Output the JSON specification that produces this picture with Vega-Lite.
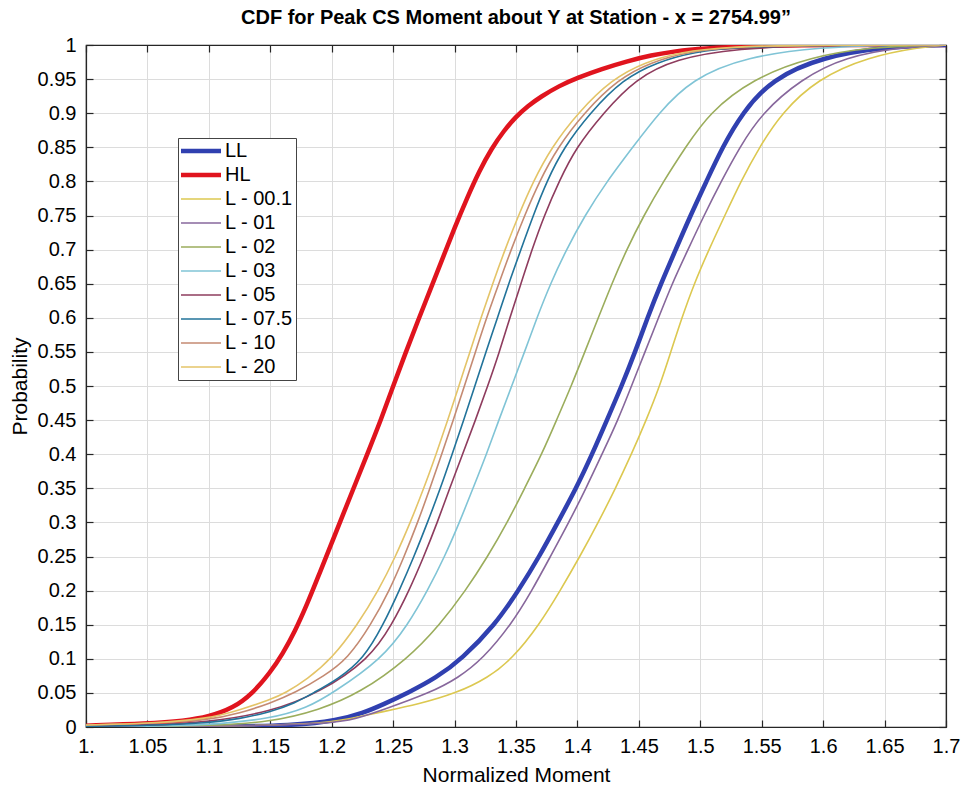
{
  "$schema": "https://vega.github.io/schema/vega-lite/v6.json",
  "width": 860,
  "height": 682,
  "autosize": {"type": "none"},
  "padding": {"left": 86, "top": 45, "right": 15, "bottom": 66},
  "background": "white",
  "title": {
    "text": "CDF for Peak CS Moment about Y at Station - x = 2754.99\u201d",
    "font": "Liberation Sans",
    "fontSize": 20,
    "fontWeight": "bold",
    "color": "#000000",
    "anchor": "middle",
    "offset": 7
  },
  "datasets": {
    "cdf": [
      {"s":"HL","x":1.00,"p":0.002},{"s":"HL","x":1.05,"p":0.005},{"s":"HL","x":1.08,"p":0.009},{"s":"HL","x":1.10,"p":0.015},{"s":"HL","x":1.12,"p":0.028},{"s":"HL","x":1.135,"p":0.048},{"s":"HL","x":1.15,"p":0.08},{"s":"HL","x":1.16,"p":0.107},{"s":"HL","x":1.17,"p":0.14},{"s":"HL","x":1.18,"p":0.18},{"s":"HL","x":1.19,"p":0.225},{"s":"HL","x":1.20,"p":0.27},{"s":"HL","x":1.21,"p":0.315},{"s":"HL","x":1.22,"p":0.36},{"s":"HL","x":1.23,"p":0.405},{"s":"HL","x":1.24,"p":0.45},{"s":"HL","x":1.25,"p":0.5},{"s":"HL","x":1.26,"p":0.548},{"s":"HL","x":1.27,"p":0.595},{"s":"HL","x":1.28,"p":0.64},{"s":"HL","x":1.29,"p":0.686},{"s":"HL","x":1.30,"p":0.732},{"s":"HL","x":1.31,"p":0.775},{"s":"HL","x":1.32,"p":0.815},{"s":"HL","x":1.33,"p":0.848},{"s":"HL","x":1.34,"p":0.874},{"s":"HL","x":1.35,"p":0.895},{"s":"HL","x":1.36,"p":0.911},{"s":"HL","x":1.37,"p":0.924},{"s":"HL","x":1.385,"p":0.94},{"s":"HL","x":1.40,"p":0.952},{"s":"HL","x":1.42,"p":0.965},{"s":"HL","x":1.44,"p":0.976},{"s":"HL","x":1.46,"p":0.985},{"s":"HL","x":1.48,"p":0.991},{"s":"HL","x":1.50,"p":0.995},{"s":"HL","x":1.55,"p":0.999},{"s":"HL","x":1.60,"p":1.0},{"s":"HL","x":1.70,"p":1.0},

      {"s":"LL","x":1.00,"p":0},{"s":"LL","x":1.10,"p":0},{"s":"LL","x":1.17,"p":0.002},{"s":"LL","x":1.205,"p":0.01},{"s":"LL","x":1.225,"p":0.02},{"s":"LL","x":1.243,"p":0.034},{"s":"LL","x":1.262,"p":0.05},{"s":"LL","x":1.285,"p":0.072},{"s":"LL","x":1.306,"p":0.1},{"s":"LL","x":1.333,"p":0.15},{"s":"LL","x":1.352,"p":0.2},{"s":"LL","x":1.369,"p":0.25},{"s":"LL","x":1.384,"p":0.3},{"s":"LL","x":1.399,"p":0.35},{"s":"LL","x":1.412,"p":0.4},{"s":"LL","x":1.424,"p":0.45},{"s":"LL","x":1.436,"p":0.5},{"s":"LL","x":1.447,"p":0.55},{"s":"LL","x":1.457,"p":0.6},{"s":"LL","x":1.468,"p":0.65},{"s":"LL","x":1.48,"p":0.7},{"s":"LL","x":1.492,"p":0.75},{"s":"LL","x":1.505,"p":0.8},{"s":"LL","x":1.518,"p":0.85},{"s":"LL","x":1.534,"p":0.9},{"s":"LL","x":1.558,"p":0.95},{"s":"LL","x":1.60,"p":0.983},{"s":"LL","x":1.65,"p":0.997},{"s":"LL","x":1.70,"p":1.0},

      {"s":"L - 00.1","x":1.00,"p":0},{"s":"L - 00.1","x":1.12,"p":0.001},{"s":"L - 00.1","x":1.19,"p":0.005},{"s":"L - 00.1","x":1.21,"p":0.01},{"s":"L - 00.1","x":1.24,"p":0.022},{"s":"L - 00.1","x":1.27,"p":0.033},{"s":"L - 00.1","x":1.302,"p":0.05},{"s":"L - 00.1","x":1.327,"p":0.072},{"s":"L - 00.1","x":1.347,"p":0.1},{"s":"L - 00.1","x":1.369,"p":0.15},{"s":"L - 00.1","x":1.386,"p":0.2},{"s":"L - 00.1","x":1.402,"p":0.25},{"s":"L - 00.1","x":1.417,"p":0.3},{"s":"L - 00.1","x":1.431,"p":0.35},{"s":"L - 00.1","x":1.444,"p":0.4},{"s":"L - 00.1","x":1.456,"p":0.45},{"s":"L - 00.1","x":1.467,"p":0.5},{"s":"L - 00.1","x":1.476,"p":0.55},{"s":"L - 00.1","x":1.485,"p":0.6},{"s":"L - 00.1","x":1.495,"p":0.65},{"s":"L - 00.1","x":1.507,"p":0.7},{"s":"L - 00.1","x":1.52,"p":0.75},{"s":"L - 00.1","x":1.533,"p":0.8},{"s":"L - 00.1","x":1.548,"p":0.85},{"s":"L - 00.1","x":1.566,"p":0.9},{"s":"L - 00.1","x":1.595,"p":0.95},{"s":"L - 00.1","x":1.637,"p":0.983},{"s":"L - 00.1","x":1.68,"p":0.997},{"s":"L - 00.1","x":1.70,"p":1.0},

      {"s":"L - 01","x":1.00,"p":0},{"s":"L - 01","x":1.12,"p":0.001},{"s":"L - 01","x":1.20,"p":0.005},{"s":"L - 01","x":1.22,"p":0.012},{"s":"L - 01","x":1.24,"p":0.024},{"s":"L - 01","x":1.28,"p":0.05},{"s":"L - 01","x":1.303,"p":0.072},{"s":"L - 01","x":1.323,"p":0.1},{"s":"L - 01","x":1.346,"p":0.15},{"s":"L - 01","x":1.363,"p":0.2},{"s":"L - 01","x":1.378,"p":0.25},{"s":"L - 01","x":1.393,"p":0.3},{"s":"L - 01","x":1.407,"p":0.35},{"s":"L - 01","x":1.42,"p":0.4},{"s":"L - 01","x":1.433,"p":0.45},{"s":"L - 01","x":1.444,"p":0.5},{"s":"L - 01","x":1.455,"p":0.55},{"s":"L - 01","x":1.466,"p":0.6},{"s":"L - 01","x":1.477,"p":0.65},{"s":"L - 01","x":1.49,"p":0.7},{"s":"L - 01","x":1.503,"p":0.75},{"s":"L - 01","x":1.517,"p":0.8},{"s":"L - 01","x":1.532,"p":0.85},{"s":"L - 01","x":1.55,"p":0.9},{"s":"L - 01","x":1.582,"p":0.95},{"s":"L - 01","x":1.618,"p":0.983},{"s":"L - 01","x":1.665,"p":0.997},{"s":"L - 01","x":1.70,"p":1.0},

      {"s":"L - 02","x":1.00,"p":0},{"s":"L - 02","x":1.05,"p":0.0005},{"s":"L - 02","x":1.10,"p":0.002},{"s":"L - 02","x":1.15,"p":0.007},{"s":"L - 02","x":1.19,"p":0.025},{"s":"L - 02","x":1.223,"p":0.05},{"s":"L - 02","x":1.262,"p":0.1},{"s":"L - 02","x":1.288,"p":0.15},{"s":"L - 02","x":1.309,"p":0.2},{"s":"L - 02","x":1.327,"p":0.25},{"s":"L - 02","x":1.343,"p":0.3},{"s":"L - 02","x":1.357,"p":0.35},{"s":"L - 02","x":1.371,"p":0.4},{"s":"L - 02","x":1.383,"p":0.45},{"s":"L - 02","x":1.395,"p":0.5},{"s":"L - 02","x":1.406,"p":0.55},{"s":"L - 02","x":1.417,"p":0.6},{"s":"L - 02","x":1.428,"p":0.65},{"s":"L - 02","x":1.44,"p":0.7},{"s":"L - 02","x":1.454,"p":0.75},{"s":"L - 02","x":1.47,"p":0.8},{"s":"L - 02","x":1.488,"p":0.85},{"s":"L - 02","x":1.507,"p":0.9},{"s":"L - 02","x":1.542,"p":0.95},{"s":"L - 02","x":1.59,"p":0.983},{"s":"L - 02","x":1.64,"p":0.997},{"s":"L - 02","x":1.69,"p":1.0},{"s":"L - 02","x":1.70,"p":1.0},

      {"s":"L - 03","x":1.00,"p":0},{"s":"L - 03","x":1.05,"p":0.001},{"s":"L - 03","x":1.10,"p":0.003},{"s":"L - 03","x":1.15,"p":0.012},{"s":"L - 03","x":1.18,"p":0.028},{"s":"L - 03","x":1.201,"p":0.05},{"s":"L - 03","x":1.241,"p":0.1},{"s":"L - 03","x":1.262,"p":0.15},{"s":"L - 03","x":1.278,"p":0.2},{"s":"L - 03","x":1.292,"p":0.25},{"s":"L - 03","x":1.304,"p":0.3},{"s":"L - 03","x":1.315,"p":0.35},{"s":"L - 03","x":1.326,"p":0.4},{"s":"L - 03","x":1.336,"p":0.45},{"s":"L - 03","x":1.3465,"p":0.5},{"s":"L - 03","x":1.357,"p":0.55},{"s":"L - 03","x":1.367,"p":0.6},{"s":"L - 03","x":1.378,"p":0.65},{"s":"L - 03","x":1.391,"p":0.7},{"s":"L - 03","x":1.406,"p":0.75},{"s":"L - 03","x":1.424,"p":0.8},{"s":"L - 03","x":1.445,"p":0.85},{"s":"L - 03","x":1.466,"p":0.9},{"s":"L - 03","x":1.493,"p":0.95},{"s":"L - 03","x":1.537,"p":0.983},{"s":"L - 03","x":1.60,"p":0.997},{"s":"L - 03","x":1.65,"p":1.0},{"s":"L - 03","x":1.70,"p":1.0},

      {"s":"L - 05","x":1.00,"p":0.001},{"s":"L - 05","x":1.05,"p":0.002},{"s":"L - 05","x":1.10,"p":0.007},{"s":"L - 05","x":1.15,"p":0.022},{"s":"L - 05","x":1.19,"p":0.05},{"s":"L - 05","x":1.231,"p":0.1},{"s":"L - 05","x":1.249,"p":0.15},{"s":"L - 05","x":1.263,"p":0.2},{"s":"L - 05","x":1.275,"p":0.25},{"s":"L - 05","x":1.286,"p":0.3},{"s":"L - 05","x":1.296,"p":0.35},{"s":"L - 05","x":1.3065,"p":0.4},{"s":"L - 05","x":1.317,"p":0.45},{"s":"L - 05","x":1.327,"p":0.5},{"s":"L - 05","x":1.3365,"p":0.55},{"s":"L - 05","x":1.345,"p":0.6},{"s":"L - 05","x":1.354,"p":0.65},{"s":"L - 05","x":1.363,"p":0.7},{"s":"L - 05","x":1.373,"p":0.75},{"s":"L - 05","x":1.385,"p":0.8},{"s":"L - 05","x":1.399,"p":0.85},{"s":"L - 05","x":1.421,"p":0.9},{"s":"L - 05","x":1.447,"p":0.95},{"s":"L - 05","x":1.48,"p":0.98},{"s":"L - 05","x":1.53,"p":0.995},{"s":"L - 05","x":1.60,"p":1.0},{"s":"L - 05","x":1.70,"p":1.0},

      {"s":"L - 07.5","x":1.00,"p":0.001},{"s":"L - 07.5","x":1.05,"p":0.002},{"s":"L - 07.5","x":1.10,"p":0.006},{"s":"L - 07.5","x":1.125,"p":0.012},{"s":"L - 07.5","x":1.15,"p":0.022},{"s":"L - 07.5","x":1.17,"p":0.035},{"s":"L - 07.5","x":1.185,"p":0.05},{"s":"L - 07.5","x":1.205,"p":0.07},{"s":"L - 07.5","x":1.226,"p":0.1},{"s":"L - 07.5","x":1.242,"p":0.15},{"s":"L - 07.5","x":1.255,"p":0.2},{"s":"L - 07.5","x":1.267,"p":0.25},{"s":"L - 07.5","x":1.278,"p":0.3},{"s":"L - 07.5","x":1.2885,"p":0.35},{"s":"L - 07.5","x":1.298,"p":0.4},{"s":"L - 07.5","x":1.3075,"p":0.45},{"s":"L - 07.5","x":1.3165,"p":0.5},{"s":"L - 07.5","x":1.3255,"p":0.55},{"s":"L - 07.5","x":1.335,"p":0.6},{"s":"L - 07.5","x":1.344,"p":0.65},{"s":"L - 07.5","x":1.354,"p":0.7},{"s":"L - 07.5","x":1.364,"p":0.75},{"s":"L - 07.5","x":1.375,"p":0.8},{"s":"L - 07.5","x":1.389,"p":0.85},{"s":"L - 07.5","x":1.41,"p":0.9},{"s":"L - 07.5","x":1.437,"p":0.95},{"s":"L - 07.5","x":1.465,"p":0.975},{"s":"L - 07.5","x":1.495,"p":0.99},{"s":"L - 07.5","x":1.53,"p":0.997},{"s":"L - 07.5","x":1.60,"p":1.0},{"s":"L - 07.5","x":1.70,"p":1.0},

      {"s":"L - 10","x":1.00,"p":0.003},{"s":"L - 10","x":1.05,"p":0.005},{"s":"L - 10","x":1.10,"p":0.01},{"s":"L - 10","x":1.125,"p":0.02},{"s":"L - 10","x":1.15,"p":0.035},{"s":"L - 10","x":1.17,"p":0.05},{"s":"L - 10","x":1.194,"p":0.075},{"s":"L - 10","x":1.213,"p":0.1},{"s":"L - 10","x":1.232,"p":0.15},{"s":"L - 10","x":1.247,"p":0.2},{"s":"L - 10","x":1.259,"p":0.25},{"s":"L - 10","x":1.27,"p":0.3},{"s":"L - 10","x":1.28,"p":0.35},{"s":"L - 10","x":1.2895,"p":0.4},{"s":"L - 10","x":1.299,"p":0.45},{"s":"L - 10","x":1.308,"p":0.5},{"s":"L - 10","x":1.317,"p":0.55},{"s":"L - 10","x":1.326,"p":0.6},{"s":"L - 10","x":1.336,"p":0.65},{"s":"L - 10","x":1.346,"p":0.7},{"s":"L - 10","x":1.357,"p":0.75},{"s":"L - 10","x":1.369,"p":0.8},{"s":"L - 10","x":1.384,"p":0.85},{"s":"L - 10","x":1.405,"p":0.9},{"s":"L - 10","x":1.433,"p":0.95},{"s":"L - 10","x":1.46,"p":0.975},{"s":"L - 10","x":1.49,"p":0.99},{"s":"L - 10","x":1.525,"p":0.997},{"s":"L - 10","x":1.58,"p":1.0},{"s":"L - 10","x":1.70,"p":1.0},

      {"s":"L - 20","x":1.00,"p":0.003},{"s":"L - 20","x":1.05,"p":0.005},{"s":"L - 20","x":1.10,"p":0.012},{"s":"L - 20","x":1.125,"p":0.025},{"s":"L - 20","x":1.15,"p":0.04},{"s":"L - 20","x":1.1625,"p":0.05},{"s":"L - 20","x":1.18,"p":0.07},{"s":"L - 20","x":1.20,"p":0.1},{"s":"L - 20","x":1.221,"p":0.15},{"s":"L - 20","x":1.238,"p":0.2},{"s":"L - 20","x":1.252,"p":0.25},{"s":"L - 20","x":1.264,"p":0.3},{"s":"L - 20","x":1.275,"p":0.35},{"s":"L - 20","x":1.285,"p":0.4},{"s":"L - 20","x":1.2945,"p":0.45},{"s":"L - 20","x":1.3035,"p":0.5},{"s":"L - 20","x":1.3125,"p":0.55},{"s":"L - 20","x":1.3215,"p":0.6},{"s":"L - 20","x":1.331,"p":0.65},{"s":"L - 20","x":1.341,"p":0.7},{"s":"L - 20","x":1.352,"p":0.75},{"s":"L - 20","x":1.364,"p":0.8},{"s":"L - 20","x":1.379,"p":0.85},{"s":"L - 20","x":1.40,"p":0.9},{"s":"L - 20","x":1.428,"p":0.95},{"s":"L - 20","x":1.455,"p":0.975},{"s":"L - 20","x":1.485,"p":0.99},{"s":"L - 20","x":1.52,"p":0.997},{"s":"L - 20","x":1.58,"p":1.0},{"s":"L - 20","x":1.70,"p":1.0}
    ]
  },
  "data": {"name": "cdf"},
  "layer": [
    {
      "encoding": {
        "x": {
          "field": "x", "type": "quantitative",
          "scale": {"domain": [1, 1.7], "nice": false, "zero": false},
          "axis": {
            "title": "Normalized Moment",
            "values": [1, 1.05, 1.1, 1.15, 1.2, 1.25, 1.3, 1.35, 1.4, 1.45, 1.5, 1.55, 1.6, 1.65, 1.7],
            "labelExpr": "datum.value == 1 ? '1.' : format(datum.value, '.2~f')",
            "labelPadding": 16,
            "labelFlush": false,
            "titleY": 48,
            "titleBaseline": "middle"
          }
        },
        "y": {
          "field": "p", "type": "quantitative",
          "scale": {"domain": [0, 1], "nice": false},
          "axis": {
            "title": "Probability",
            "values": [0, 0.05, 0.1, 0.15, 0.2, 0.25, 0.3, 0.35, 0.4, 0.45, 0.5, 0.55, 0.6, 0.65, 0.7, 0.75, 0.8, 0.85, 0.9, 0.95, 1],
            "labelExpr": "format(datum.value, '.2~f')",
            "labelPadding": 17,
            "labelFlush": false,
            "titleX": -66,
            "titleY": 341,
            "titleBaseline": "middle",
            "titleAlign": "center"
          }
        },
        "color": {
          "field": "s", "type": "nominal",
          "scale": {
            "domain": ["LL", "HL", "L - 00.1", "L - 01", "L - 02", "L - 03", "L - 05", "L - 07.5", "L - 10", "L - 20"],
            "range": ["#3040B0", "#E0141E", "#DCC850", "#87679C", "#9BAD5C", "#80C4D6", "#8E3C5E", "#22739A", "#C48A72", "#E4C468"]
          },
          "legend": {
            "title": null,
            "orient": "none",
            "legendX": 92,
            "legendY": 93,
            "encode": {
              "symbols": {
                "update": {
                  "strokeWidth": {"signal": "datum.value == 'LL' || datum.value == 'HL' ? 4.5 : 1.6"}
                }
              }
            }
          }
        }
      },
      "layer": [
        {
          "transform": [{"filter": "datum.s == 'LL' || datum.s == 'HL'"}],
          "mark": {"type": "line", "interpolate": "basis", "strokeWidth": 4.5, "clip": true}
        },
        {
          "transform": [{"filter": "datum.s != 'LL' && datum.s != 'HL'"}],
          "mark": {"type": "line", "interpolate": "basis", "strokeWidth": 1.6, "clip": true}
        }
      ]
    },
    {
      "mark": {"type": "point", "opacity": 0},
      "encoding": {
        "x": {
          "field": "x", "type": "quantitative",
          "axis": {
            "orient": "top", "labels": false, "grid": false, "title": null,
            "values": [1, 1.05, 1.1, 1.15, 1.2, 1.25, 1.3, 1.35, 1.4, 1.45, 1.5, 1.55, 1.6, 1.65, 1.7]
          }
        },
        "y": {
          "field": "p", "type": "quantitative",
          "axis": {
            "orient": "right", "labels": false, "grid": false, "title": null,
            "values": [0, 0.05, 0.1, 0.15, 0.2, 0.25, 0.3, 0.35, 0.4, 0.45, 0.5, 0.55, 0.6, 0.65, 0.7, 0.75, 0.8, 0.85, 0.9, 0.95, 1]
          }
        }
      }
    }
  ],
  "resolve": {"axis": {"x": "independent", "y": "independent"}},
  "config": {
    "view": {"stroke": "#262626", "strokeWidth": 1.2},
    "axis": {
      "labelFont": "Liberation Sans",
      "labelFontSize": 20,
      "labelColor": "#000000",
      "titleFont": "Liberation Sans",
      "titleFontSize": 21,
      "titleFontWeight": "normal",
      "titleColor": "#000000",
      "domainColor": "#262626",
      "domainWidth": 1.2,
      "tickColor": "#262626",
      "tickWidth": 1.2,
      "tickSize": -7,
      "gridColor": "#dcdcdc",
      "gridWidth": 1,
      "gridOpacity": 1
    },
    "legend": {
      "symbolType": "M-1,0H3",
      "symbolSize": 400,
      "labelFont": "Liberation Sans",
      "labelFontSize": 20,
      "labelColor": "#000000",
      "labelOffset": 24,
      "rowPadding": 4,
      "padding": 3,
      "strokeColor": "#444444",
      "fillColor": "#ffffff",
      "cornerRadius": 0
    }
  }
}
